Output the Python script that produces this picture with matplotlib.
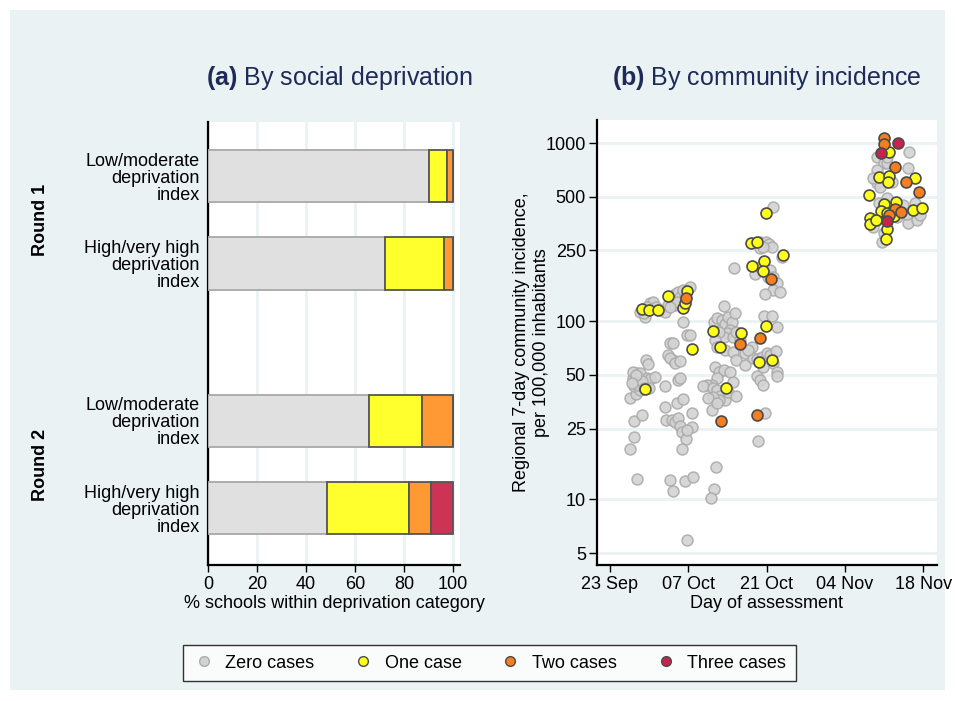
import matplotlib
matplotlib.use("Agg")
import matplotlib.pyplot as plt
from matplotlib.lines import Line2D
from matplotlib.patches import Rectangle

plt.rcParams['font.family'] = ['Liberation Sans', 'DejaVu Sans']
plt.rcParams['mathtext.fontset'] = 'custom'
plt.rcParams['mathtext.rm'] = 'Liberation Sans'
plt.rcParams['mathtext.bf'] = 'Liberation Sans:bold'

# ---- données panneau (a)
groupes = ["Low/moderate\ndeprivation\nindex", "High/very high\ndeprivation\nindex",
           "Low/moderate\ndeprivation\nindex", "High/very high\ndeprivation\nindex"]
pct_zero = [90.1, 72.4, 65.7, 48.6]
pct_un = [7.4, 24.1, 21.8, 33.3]
pct_deux = [2.5, 3.5, 12.5, 9.0]
pct_trois = [0.0, 0.0, 0.0, 9.1]

# ---- données panneau (b) : jours depuis le 23 sept., incidence
zero_jour = [3.6, 4.3, 4.8, 4.3, 5.7, 3.6, 4.6, 4.3, 4.2, 4.8, 4.1, 5.4, 6.6, 7.2, 8.0, 6.4, 6.8, 7.0, 5.4, 5.0, 5.8, 4.6, 6.0, 3.9,
             9.9, 9.8, 10.1, 11.0, 11.6, 12.2, 12.5, 12.8, 13.6, 12.9, 14.6, 11.9, 13.0, 12.2, 12.5, 10.4, 10.7, 11.2, 11.3, 10.8,
             11.6, 12.6, 13.1, 13.7, 14.3, 10.7, 11.3, 13.4, 14.8, 13.8, 14.6, 13.8,
             5.4, 6.3, 6.0, 7.2, 7.7, 8.3, 8.9, 9.8, 10.4, 11.0, 11.6, 12.2, 12.5, 11.6, 12.8, 13.4, 14.3, 13.1, 11.9, 10.7, 6.6,
             18.6, 19.1, 20.0, 20.6, 21.1, 21.8, 22.3, 21.5, 20.9, 20.3, 19.4, 18.8, 19.1, 20.6, 22.0, 22.6, 23.2, 24.1, 22.0, 22.6,
             18.8, 19.4, 20.3, 21.5, 19.1, 18.2, 17.3, 16.7, 18.5, 19.1, 19.7, 20.6, 19.4, 18.5, 17.6, 18.2, 19.1, 21.1, 22.0, 22.6,
             24.1, 19.0, 18.6, 18.0, 20.3,
             27.5, 28.9, 29.9, 25.3, 25.6, 26.2, 27.1, 28.0, 28.6, 29.7, 29.2, 29.8, 29.9, 26.2, 26.8, 27.4, 27.7, 26.5, 27.4, 24.7,
             29.2, 26.8, 27.9, 28.4, 29.0, 26.9, 27.4, 30.7, 25.9, 26.8, 28.6, 29.2, 29.8, 29.2, 27.7, 30.4, 28.3, 22.2,
             53.5, 47.7, 48.9, 47.7, 49.5, 53.3, 50.4, 47.7, 48.3, 49.5, 47.1,
             48.7, 48.9, 47.7, 47.1, 53.3, 54.8, 54.5, 51.3, 52.4, 48.0, 49.5, 53.0, 55.4]
zero_val = [19.2, 22.4, 13.1, 27.5, 29.8, 36.9, 38.9, 43.3, 47.8, 51, 52, 51.5, 47.8, 47.2, 48.8, 60.6, 57.5, 42.4, 41, 44, 46, 50, 42, 45,
            43.5, 33.1, 27.9, 27.9, 27.3, 28.6, 26, 24, 21.9, 19.3, 30.7, 34.9, 36.4, 46.8, 47.8, 64.6, 75.2, 75.2, 60.6, 62,
            58, 60, 99, 83.7, 83.7, 12.9, 11.2, 12.7, 13.3, 5.9, 25.6, 24.5,
            113, 106, 111, 127, 129, 120, 116, 113, 123, 131, 143, 146, 137, 123, 120, 143, 156, 150, 129, 120, 120,
            99, 104, 101, 97, 106, 99, 111, 89, 85.5, 82, 87, 78.5, 72, 69, 82, 87, 78.5, 66, 67, 60.6,
            55.6, 52, 53, 52, 47.8, 43.9, 43.9, 43.3, 42.4, 41, 38.3, 36.1, 36.1, 37.5, 36.9, 31.8, 34.6, 40.3, 45.6, 38.3,
            56.7, 15.2, 11.4, 10.2, 122,
            107, 107, 93, 72, 62.5, 61.7, 63, 66, 64.6, 68.3, 58, 52, 49, 49.5, 46.8, 43.9, 30.6, 21.3, 55.6, 69,
            436, 278, 280, 270, 262, 258, 262, 228, 184, 202, 194, 178, 163, 150, 143, 146, 178, 199,
            886, 831, 769, 705, 769, 720, 607, 594, 569, 838, 634,
            278, 311, 370, 339, 354, 370, 459, 386, 449, 459, 489, 401, 395]

un_jour = [5.7, 6.9, 8.5, 10.4, 13.1, 13.8, 13.4, 6.3, 14.7,
           18.4, 19.7, 23.5, 20.7,
           27.8, 26.7, 28.9, 27.8, 25.2, 26.3, 27.6, 30.9, 25.3, 27.3,
           49.9, 48.1, 49.9, 49.7, 54.5, 46.3, 48.9, 51.1, 54.1, 55.8, 48.5, 49.5, 46.5, 46.4, 49.6, 49.3, 50.8, 47.5]
un_val = [116.6, 115, 116, 138, 118, 148, 127, 41.6, 69.6,
          88.4, 71.3, 86.2, 42.2,
          94, 58.8, 60.6, 406, 275, 278, 219, 236, 203, 192,
          894, 642, 653, 604, 639, 509, 455, 466, 421, 430, 414, 407, 378, 351, 329, 288, 388, 372]

deux_jour = [13.5, 23.3, 19.8, 26.9, 26.2, 28.7, 48.9, 48.9, 50.9, 52.9, 55.3, 50.9, 52.1, 49.8]
deux_val = [134.5, 74.2, 27.6, 80.8, 29.6, 173, 1062, 987, 733, 602, 529, 425, 410, 395]

trois_jour = [51.5, 48.4, 49.5]
trois_val = [1004, 879, 365]

jours_ticks = [0, 14, 28, 42, 56]
labels_ticks = ["23 Sep", "07 Oct", "21 Oct", "04 Nov", "18 Nov"]
incid_ticks = [5, 10, 25, 50, 100, 250, 500, 1000]

c_gris, c_jaune, c_orange, c_rouge = '#E0E0E0', '#FFFF2E', '#FF9933', '#CC3355'
fond = '#EAF2F3'
titre_c = '#1E2B58'
fs = 13

fig = plt.figure(figsize=(9.55, 7.01), dpi=100)
fig.patch.set_facecolor('white')
fig.patches.append(Rectangle((10/955, 11/701), 935/955, 680/701, transform=fig.transFigure,
                             facecolor=fond, edgecolor='none', zorder=-10))

# ---- Panneau (a)
ax1 = fig.add_axes([208/955, 1-565/701, 252/955, 443/701])
pos = [0, 1, 2.8, 3.8]
gauche = [0, 0, 0, 0]
for vals, col, ec in [(pct_zero, c_gris, '#A8A8A8'), (pct_un, c_jaune, '#555555'),
                      (pct_deux, c_orange, '#555555'), (pct_trois, c_rouge, '#555555')]:
    ax1.barh(pos, vals, left=gauche, height=0.6, color=col, edgecolor=ec, linewidth=1.3, zorder=3)
    gauche = [g + v for g, v in zip(gauche, vals)]
ax1.set_ylim(4.45, -0.62)
ax1.set_xlim(0, 102.9)
ax1.set_yticks(pos)
ax1.set_yticklabels(groupes, fontsize=fs)
for lab in ax1.get_yticklabels():
    lab.set_linespacing(1.0)
ax1.tick_params(axis='y', length=0, pad=6)
ax1.set_xticks([0, 20, 40, 60, 80, 100])
ax1.tick_params(axis='x', labelsize=fs, length=5, width=1, pad=3)
ax1.xaxis.grid(True, color=fond, linewidth=2)
ax1.set_axisbelow(True)
for s in ['top', 'right']:
    ax1.spines[s].set_visible(False)
for s in ['left', 'bottom']:
    ax1.spines[s].set_linewidth(1.6)
ax1.set_xlabel("% schools within deprivation category", fontsize=fs, labelpad=1)
fig.text(340/955, 1-78/701, r"$\bf{(a)}$ By social deprivation", fontsize=18, color=titre_c,
         ha='center', va='center')
fig.text(40/955, 1-220/701, "Round 1", rotation=90, fontsize=fs, fontweight='bold', ha='center', va='center')
fig.text(40/955, 1-465/701, "Round 2", rotation=90, fontsize=fs, fontweight='bold', ha='center', va='center')

# ---- Panneau (b)
ax2 = fig.add_axes([597/955, 1-565/701, 340/955, 445/701])
ax2.set_yscale('log')
ax2.scatter(zero_jour, zero_val, s=62, color='#D3D3D3', edgecolor='#ABABAB', linewidth=1.1, alpha=0.9, zorder=3)
ax2.scatter(un_jour, un_val, s=62, color='#FFFF1A', edgecolor='#4A4A4A', linewidth=1.2, zorder=4)
ax2.scatter(deux_jour, deux_val, s=62, color='#F57F1F', edgecolor='#4A4A4A', linewidth=1.2, zorder=5)
ax2.scatter(trois_jour, trois_val, s=62, color='#C8234F', edgecolor='#4A4A4A', linewidth=1.2, zorder=6)
ax2.set_ylim(4.29, 1346)
ax2.set_xlim(-2.32, 58.45)
ax2.set_yticks(incid_ticks)
ax2.set_yticklabels([str(v) for v in incid_ticks])
ax2.minorticks_off()
ax2.set_xticks(jours_ticks)
ax2.set_xticklabels(labels_ticks)
ax2.tick_params(labelsize=fs, length=5, width=1, pad=3)
ax2.tick_params(axis='y', length=6, pad=2)
ax2.yaxis.grid(True, color=fond, linewidth=2)
ax2.set_axisbelow(True)
for s in ['top', 'right']:
    ax2.spines[s].set_visible(False)
for s in ['left', 'bottom']:
    ax2.spines[s].set_linewidth(1.6)
ax2.set_xlabel("Day of assessment", fontsize=fs, labelpad=1)
ax2.set_ylabel("Regional 7-day community incidence,\nper 100,000 inhabitants", fontsize=fs, labelpad=-3)
fig.text(767/955, 1-78/701, r"$\bf{(b)}$ By community incidence", fontsize=18, color=titre_c,
         ha='center', va='center')

# ---- Légende
poignees = [
    Line2D([], [], marker='o', linestyle='none', markersize=7, markerfacecolor='#D3D3D3', markeredgecolor='#ABABAB'),
    Line2D([], [], marker='o', linestyle='none', markersize=7, markerfacecolor='#FFFF1A', markeredgecolor='#4A4A4A'),
    Line2D([], [], marker='o', linestyle='none', markersize=7, markerfacecolor='#F57F1F', markeredgecolor='#4A4A4A'),
    Line2D([], [], marker='o', linestyle='none', markersize=7, markerfacecolor='#C8234F', markeredgecolor='#4A4A4A'),
]
leg = fig.legend(poignees, ["Zero cases", "One case", "Two cases", "Three cases"], ncol=4,
                 loc='center', bbox_to_anchor=(489.5/955, 1-663/701), fontsize=fs,
                 frameon=True, fancybox=False, edgecolor='black', columnspacing=2.1,
                 handletextpad=0.6, borderpad=0.55, handlelength=1.2)
leg.get_frame().set_linewidth(1.0)

fig.savefig("out.png", dpi=100, facecolor=fig.get_facecolor())
